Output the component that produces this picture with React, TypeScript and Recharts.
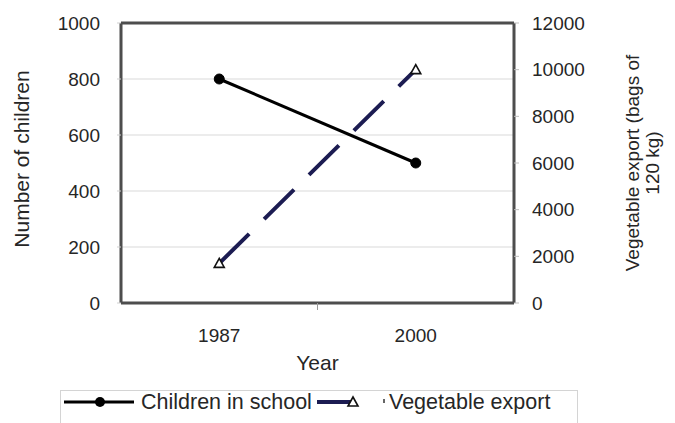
import { LineChart, Line, XAxis, YAxis, CartesianGrid, ReferenceLine, Legend } from "recharts";

const years = ["1987", "2000"];
const childrenInSchool = [800, 500];
const vegetableExport = [1700, 10000];
const leftTicks = [0, 200, 400, 600, 800, 1000];
const rightTicks = [0, 2000, 4000, 6000, 8000, 10000, 12000];

const data = years.map((year, i) => ({
  year,
  children: childrenInSchool[i],
  vegetables: vegetableExport[i],
}));

const FONT = "'Liberation Sans', Arial, sans-serif";
const TEXT = "#262626";
const AXIS = "#4d4d4d";
const NAVY = "#1c1c52";

const YearTick = (props: any) => {
  const { x, y, payload, index, width, visibleTicksCount } = props;
  const band = width / (visibleTicksCount || 1);
  return (
    <g>
      <text x={x} y={y + 32} textAnchor="middle" dominantBaseline="central" fill={TEXT} fontSize={19} fontFamily={FONT}>
        {payload.value}
      </text>
      {index === 0 && <line x1={x + band / 2} x2={x + band / 2} y1={y} y2={y + 7} stroke="#999" strokeWidth={1} />}
    </g>
  );
};

const Triangle = (props: any) => {
  const { cx, cy } = props;
  if (cx == null || cy == null) return null;
  return (
    <path
      d={`M${cx},${cy - 5} L${cx + 5},${cy + 4} L${cx - 5},${cy + 4} Z`}
      fill="#fff"
      stroke="#111"
      strokeWidth={1.6}
    />
  );
};

const LeftLabel = (props: any) => {
  const { viewBox } = props;
  const cx = viewBox.x + 21;
  const cy = viewBox.y + viewBox.height / 2 - 4;
  return (
    <text x={cx} y={cy} transform={`rotate(-90 ${cx} ${cy})`} textAnchor="middle" dominantBaseline="central" fill={TEXT} fontSize={21} fontFamily={FONT}>
      Number of children
    </text>
  );
};

const RightLabel = (props: any) => {
  const { viewBox } = props;
  const cy = viewBox.y + viewBox.height / 2;
  const x1 = viewBox.x + 118;
  const x2 = viewBox.x + 138;
  return (
    <g fill={TEXT} fontSize={19} fontFamily={FONT}>
      <text x={x1} y={cy} transform={`rotate(-90 ${x1} ${cy})`} textAnchor="middle" dominantBaseline="central">
        Vegetable export (bags of
      </text>
      <text x={x2} y={cy} transform={`rotate(-90 ${x2} ${cy})`} textAnchor="middle" dominantBaseline="central">
        120 kg)
      </text>
    </g>
  );
};

const YearLabel = (props: any) => {
  const { viewBox } = props;
  return (
    <text x={viewBox.x + viewBox.width / 2} y={viewBox.y + 59} textAnchor="middle" dominantBaseline="central" fill={TEXT} fontSize={21} fontFamily={FONT}>
      Year
    </text>
  );
};

const renderLegend = (props: any) => {
  const items = props.payload || [];
  const names = items.map((p: any) => p.value);
  return (
    <div style={{ width: 518, height: 40, boxSizing: "border-box", border: "1px solid #d4d4d4", background: "#fff" }}>
      <svg width={516} height={38} style={{ display: "block" }}>
        <line x1={3} x2={73} y1={11} y2={11} stroke="#000" strokeWidth={3} />
        <circle cx={39} cy={11} r={5} fill="#000" />
        <text x={80} y={11} dominantBaseline="central" fill={TEXT} fontSize={21.5} fontFamily={FONT}>
          {names[0]}
        </text>
        <line x1={256} x2={290} y1={11} y2={11} stroke={NAVY} strokeWidth={4} />
        <path d="M292,6 L297,15 L287,15 Z" fill="#fff" stroke="#111" strokeWidth={1.6} />
        <line x1={323} x2={323} y1={8} y2={12} stroke="#333" strokeWidth={1.5} />
        <text x={328} y={11} dominantBaseline="central" fill={TEXT} fontSize={21.5} fontFamily={FONT}>
          {names[1]}
        </text>
      </svg>
    </div>
  );
};

export default function App() {
  return (
    <div style={{ position: "absolute", left: 0, top: 0, width: 675, height: 423, overflow: "hidden", background: "#fff" }}>
      <LineChart width={675} height={423} data={data} margin={{ top: 23, right: 0, bottom: 0, left: 0 }}>
        <CartesianGrid yAxisId="left" vertical={false} stroke="#d9d9d9" strokeWidth={1} />
        <XAxis
          dataKey="year"
          scale="band"
          height={120}
          tick={<YearTick />}
          tickSize={0}
          tickMargin={0}
          tickLine={false}
          axisLine={{ stroke: AXIS, strokeWidth: 3 }}
          label={<YearLabel />}
        />
        <YAxis
          yAxisId="left"
          width={121}
          domain={[0, 1000]}
          ticks={leftTicks}
          tickSize={4}
          tickMargin={17}
          tickLine={{ stroke: "#cfcfcf" }}
          axisLine={{ stroke: AXIS, strokeWidth: 3 }}
          tick={{ fill: TEXT, fontSize: 19, fontFamily: FONT }}
          label={<LeftLabel />}
        />
        <YAxis
          yAxisId="right"
          orientation="right"
          width={161}
          domain={[0, 12000]}
          ticks={rightTicks}
          tickSize={5}
          tickMargin={13}
          tickLine={{ stroke: "#bdbdbd" }}
          axisLine={{ stroke: AXIS, strokeWidth: 3 }}
          tick={{ fill: TEXT, fontSize: 19, fontFamily: FONT }}
          label={<RightLabel />}
        />
        <ReferenceLine yAxisId="left" y={1000} stroke={AXIS} strokeWidth={3} />
        <Line
          yAxisId="left"
          type="linear"
          dataKey="children"
          name="Children in school"
          stroke="#000"
          strokeWidth={3}
          dot={{ r: 5, fill: "#000", stroke: "#000", strokeWidth: 1 }}
          isAnimationActive={false}
        />
        <Line
          yAxisId="right"
          type="linear"
          dataKey="vegetables"
          name="Vegetable export"
          stroke={NAVY}
          strokeWidth={4}
          strokeDasharray="42 21"
          dot={<Triangle />}
          isAnimationActive={false}
        />
        <Legend
          layout="horizontal"
          verticalAlign="middle"
          align="center"
          content={renderLegend}
          wrapperStyle={{ left: 60, top: 390, width: 518, height: 40 }}
        />
      </LineChart>
    </div>
  );
}
